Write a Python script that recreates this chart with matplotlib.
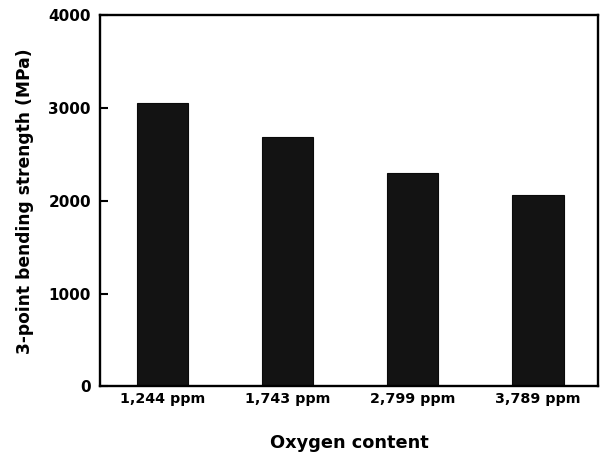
import matplotlib
matplotlib.use("Agg")
import matplotlib.pyplot as plt

categories = ["1,244 ppm", "1,743 ppm", "2,799 ppm", "3,789 ppm"]
strength = [3053, 2683, 2294, 2057]
yticks = [0, 1000, 2000, 3000, 4000]

plt.rcParams['font.family'] = ['DejaVu Sans']

fig = plt.figure(figsize=(6.04, 4.54), dpi=100)
ax = fig.add_axes([0.1656, 0.1487, 0.8244, 0.8183])

x = list(range(len(categories)))
ax.bar(x, strength, width=0.41, color='#131313', edgecolor='#0a0a0a', linewidth=0.8)

ax.set_xlim(-0.5, 3.48)
ax.set_ylim(0, 4000)
ax.set_yticks(yticks)
ax.set_yticklabels([str(v) for v in yticks], fontsize=11, fontweight='bold')
ax.set_xticks(x)
ax.set_xticklabels(categories, fontsize=10.3, fontweight='bold')

ax.tick_params(axis='y', direction='in', length=6, width=1.5, pad=6.5)
ax.tick_params(axis='x', length=0, pad=4)

for s in ax.spines.values():
    s.set_linewidth(1.7)

ax.set_ylabel("3-point bending strength (MPa)", fontsize=12.3, fontweight='bold', labelpad=10)
ax.set_xlabel("Oxygen content", fontsize=12.8, fontweight='bold', labelpad=20)

fig.savefig("out.png", dpi=100)
